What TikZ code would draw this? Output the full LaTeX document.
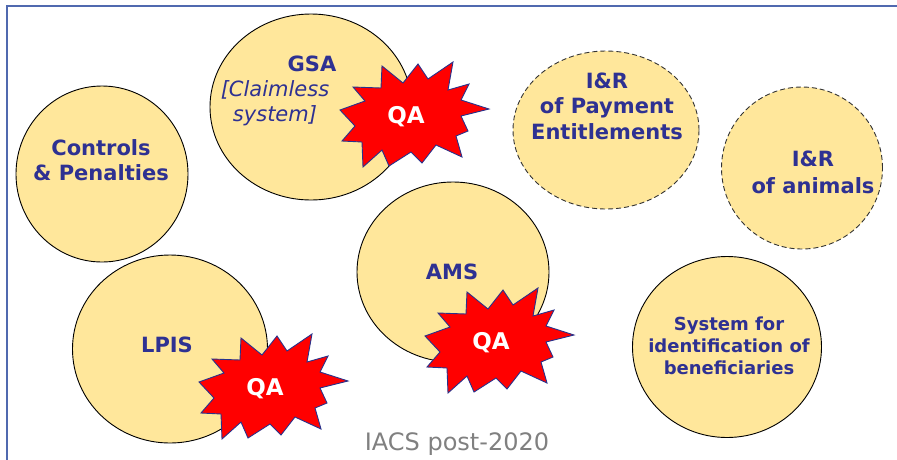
\documentclass[tikz,border=0pt]{standalone}
\usepackage{fontspec}
\setmainfont{DejaVu Sans}
\usepackage{xcolor}
\usepackage{tikz}
\usetikzlibrary{shapes.geometric}
\definecolor{discfill}{RGB}{255,231,155}
\definecolor{navytext}{RGB}{46,49,146}
\definecolor{qared}{RGB}{255,0,0}
\definecolor{qaline}{RGB}{40,50,140}
\definecolor{frameblue}{RGB}{80,105,175}
\definecolor{footgray}{RGB}{128,128,128}

\tikzset{
  disc/.style={ellipse, draw=black, line width=0.9pt, fill=discfill, inner sep=0pt},
  dashdisc/.style={disc, draw=black!80, dash pattern=on 5pt off 3pt},
  lbl/.style={text=navytext, font=\fontsize{21}{25.5}\selectfont\bfseries, align=center, inner sep=0pt},
  qastar/.pic={
    \draw[fill=qared, draw=qaline, line width=0.9pt]
      (-24,-51) -- (-3,-34) -- (12,-53) -- (22,-38) -- (47,-55) -- (42,-27)
      -- (63,-33) -- (55,-17) -- (83,-8) -- (55,-1) -- (62,14) -- (50,19)
      -- (56,40) -- (30,28) -- (16,46) -- (5,35) -- (-17,49) -- (-24,33)
      -- (-43,50) -- (-44,25) -- (-64,24) -- (-51,9) -- (-66,-7) -- (-41,-16)
      -- (-53,-30) -- (-25,-29) -- cycle;
    \node[text=white, font=\fontsize{23}{27}\selectfont\bfseries, inner sep=0pt] (-qa) at (0,0) {QA};
  }
}

\begin{document}
\begin{tikzpicture}[x=1pt, y=-1pt]
        \useasboundingbox (0,0) rectangle (897,459);
        \clip (0,0) rectangle (897,459);
        % frame
        \draw[frameblue, line width=1.8pt] (7,470) -- (7,6) -- (905,6);
        % discs
        \node[disc, minimum width=172pt, minimum height=176pt] (ctrl) at (102,174) {};
        \node[disc, minimum width=202pt, minimum height=186pt] (gsa) at (311,107) {};
        \node[dashdisc, minimum width=186pt, minimum height=158pt] (pay) at (606,130) {};
        \node[dashdisc, minimum width=161pt, minimum height=162pt] (ani) at (802,168) {};
        \node[disc, minimum width=192pt, minimum height=180pt] (ams) at (453,272) {};
        \node[disc, minimum width=195pt, minimum height=188pt] (lpis) at (170,349) {};
        \node[disc, minimum width=189pt, minimum height=181pt] (sys) at (727,347) {};
        % labels
        \node[lbl] (ctrltxt) at (101,160) {Controls\\\& Penalties};
        \node[lbl] (gsatxt) at (312,64) {GSA};
        \node[lbl, font=\fontsize{21}{25}\selectfont\itshape] (gsanote) at (275,103) {[Claimless\\system]};
        \node[lbl] (paytxt) at (607,106) {I\&R\\of Payment\\Entitlements};
        \node[lbl, font=\fontsize{21}{27}\selectfont\bfseries] (anitxt) at (813,172) {I\&R\\of animals};
        \node[lbl] (amstxt) at (452,272) {AMS};
        \node[lbl] (lpistxt) at (167,345) {LPIS};
        \node[lbl, font=\fontsize{18}{22}\selectfont\bfseries] (systxt) at (729,346) {System for\\identification of\\beneficiaries};
        % quality assessment
        \pic (gsaqa) at (406,117) {qastar};
        \pic (lpisqa) at (265,389) {qastar};
        \pic (amsqa) at (491,343) {qastar};
        \node[text=footgray, font=\fontsize{24}{28}\selectfont, inner sep=0pt] (foot) at (457,444) {IACS post-2020};
    \end{tikzpicture}
\end{document}
